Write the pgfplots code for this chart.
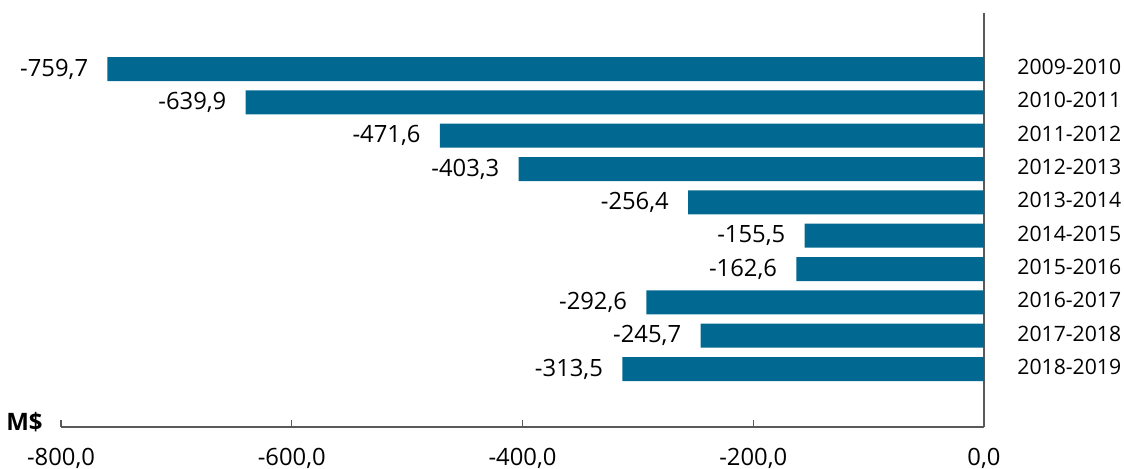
\documentclass[border=0pt]{standalone}
\usepackage{pgfplots}
\pgfplotsset{compat=1.18}
\usepackage{fontspec}
\setmainfont{Open Sans}
\definecolor{barblue}{RGB}{0,104,145}
\definecolor{axgray}{RGB}{89,89,89}

\begin{document}
\begin{tikzpicture}
\begin{axis}[
    scale only axis,
    width=461.5pt, height=207pt,
    xbar, bar width=0.72,
    y dir=reverse,
    xmin=-800, xmax=0,
    ymin=-1.68, ymax=10.74,
    axis x line*=bottom,
    axis y line*=right,
    axis line style={axgray, line width=0.7pt},
    xtick={-800,-600,-400,-200,0},
    tick align=inside,
    major tick length=3.5pt,
    xtick style={axgray, line width=0.7pt},
    ytick={0,...,9},
    yticklabels={2009-2010,2010-2011,2011-2012,2012-2013,2013-2014,2014-2015,2015-2016,2016-2017,2017-2018,2018-2019},
    ytick style={draw=none},
    yticklabel style={anchor=west, inner sep=0pt, xshift=16.5pt, yshift=1pt, font=\fontsize{10.6}{12}\selectfont},
    ticklabel style={text=black},
    xticklabel style={anchor=north, inner sep=0pt, yshift=-10.5pt, font=\fontsize{11.9}{13}\selectfont},
    /pgf/number format/assume math mode=true,
    /pgf/number format/.cd, fixed, fixed zerofill, precision=1, use comma, 1000 sep={},
    /pgfplots/.cd,
    nodes near coords,
    point meta=x,
    every node near coord/.append style={anchor=east, inner sep=0pt, xshift=-9.5pt, text=black, font=\fontsize{11.9}{13}\selectfont},
    clip=false,
]
\addplot[fill=barblue, draw=none] coordinates {
    (-759.7,0) (-639.9,1) (-471.6,2) (-403.3,3) (-256.4,4)
    (-155.5,5) (-162.6,6) (-292.6,7) (-245.7,8) (-313.5,9)
};
\end{axis}
\node[anchor=base east, inner sep=0pt, font=\fontsize{12}{13}\selectfont\bfseries] at ([xshift=-9pt,yshift=-1.5pt]current axis.south west) {M\$};
\path ([xshift=-30.5pt,yshift=-19pt]current axis.south west) rectangle ([xshift=70pt,yshift=6.5pt]current axis.north east);
\end{tikzpicture}
\end{document}
